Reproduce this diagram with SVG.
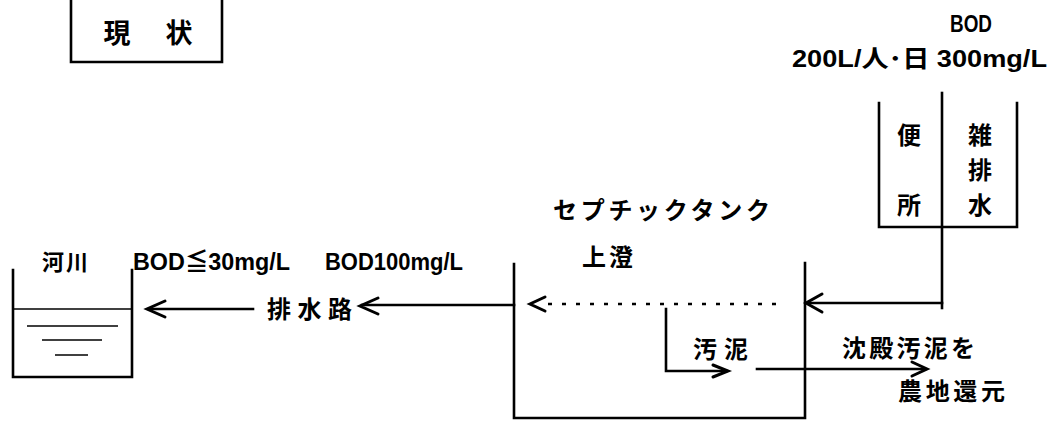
<svg xmlns="http://www.w3.org/2000/svg" width="1055" height="421" viewBox="0 0 1055 421">
<style>
.ln{fill:none;stroke:#000;stroke-width:2.6;stroke-linecap:square}
.thin{fill:none;stroke:#000;stroke-width:1.6}
.ah{fill:none;stroke:#000;stroke-width:3;stroke-linecap:round;stroke-linejoin:miter}
.dot{fill:none;stroke:#000;stroke-width:2.6;stroke-dasharray:4 10}
.j{font-family:"Noto Sans CJK JP",sans-serif;font-weight:bold;fill:#000;dominant-baseline:central}
.l{font-family:"Liberation Sans","Noto Sans CJK JP",sans-serif;font-weight:bold;fill:#000}
</style>
<rect width="1055" height="421" fill="#fff"/>
<g id="title">
<path class="ln" d="M71,0 V62 H222 V0"/>
<text class="j" x="117" y="31" font-size="27" text-anchor="middle">現</text>
<text class="j" x="179" y="31" font-size="27" text-anchor="middle">状</text>
</g>
<g id="source">
<text class="l" x="950" y="32" font-size="24" textLength="42" lengthAdjust="spacingAndGlyphs">BOD</text>
<text class="l" x="792" y="67" font-size="24" textLength="255" lengthAdjust="spacingAndGlyphs">200L/人･日 300mg/L</text>
<path class="ln" d="M879,103 V227 H1017 V103"/>
<text class="j" x="909" y="133" font-size="24" text-anchor="middle">便</text>
<text class="j" x="909" y="203" font-size="24" text-anchor="middle">所</text>
<text class="j" x="980" y="133" font-size="24" text-anchor="middle">雑</text>
<text class="j" x="980" y="168" font-size="24" text-anchor="middle">排</text>
<text class="j" x="980" y="203" font-size="24" text-anchor="middle">水</text>
</g>
<g id="tank">
<path class="ln" d="M514,264 V418 H805 V263"/>
<text class="j" x="553" y="208" font-size="24" textLength="217" lengthAdjust="spacing">セプチックタンク</text>
<text class="j" x="582" y="255" font-size="24" textLength="51" lengthAdjust="spacing">上澄</text>
<text class="j" x="693" y="347" font-size="24" textLength="55" lengthAdjust="spacing">汚泥</text>
</g>
<g id="river">
<path class="ln" d="M13,270 V377 H132 V270"/>
<line class="thin" x1="13" y1="309" x2="132" y2="309"/>
<line class="thin" x1="27" y1="326" x2="118" y2="326"/>
<line class="thin" x1="42" y1="340" x2="102" y2="340"/>
<line class="thin" x1="55" y1="355" x2="88" y2="355"/>
<text class="j" x="42" y="260" font-size="22" textLength="46" lengthAdjust="spacing">河川</text>
</g>
<g id="labels">
<text class="l" x="133" y="270" font-size="24" textLength="157" lengthAdjust="spacingAndGlyphs">BOD≦30mg/L</text>
<text class="l" x="325" y="270" font-size="24" textLength="138" lengthAdjust="spacingAndGlyphs">BOD100mg/L</text>
<text class="j" x="267" y="307" font-size="24" textLength="85" lengthAdjust="spacing">排水路</text>
<text class="j" x="842" y="346" font-size="24" textLength="133" lengthAdjust="spacing">沈殿汚泥を</text>
<text class="j" x="898" y="389" font-size="24" textLength="107" lengthAdjust="spacing">農地還元</text>
</g>
<g id="connectors">
<line class="ln" x1="149" y1="309" x2="253" y2="309"/>
<path class="ah" d="M165,301 L147,309 L165,317"/>
<line class="ln" x1="362" y1="305" x2="514" y2="305"/>
<path class="ah" d="M378,298 L360,306 L378,314"/>
<line class="dot" x1="548" y1="304" x2="780" y2="304"/>
<path class="ah" d="M545,297 L530,304 L545,311"/>
<path class="ln" d="M942,93 V308"/>
<line class="ln" x1="808" y1="303" x2="942" y2="303"/>
<path class="ah" d="M822,294 L806,303 L822,312"/>
<path class="ln" d="M666,309 V371 H726"/>
<path class="ah" d="M713,365 L728,371 L713,377"/>
<line class="ln" x1="757" y1="369" x2="925" y2="369"/>
<path class="ah" d="M912,362 L927,369 L912,376"/>
</g>
</svg>
